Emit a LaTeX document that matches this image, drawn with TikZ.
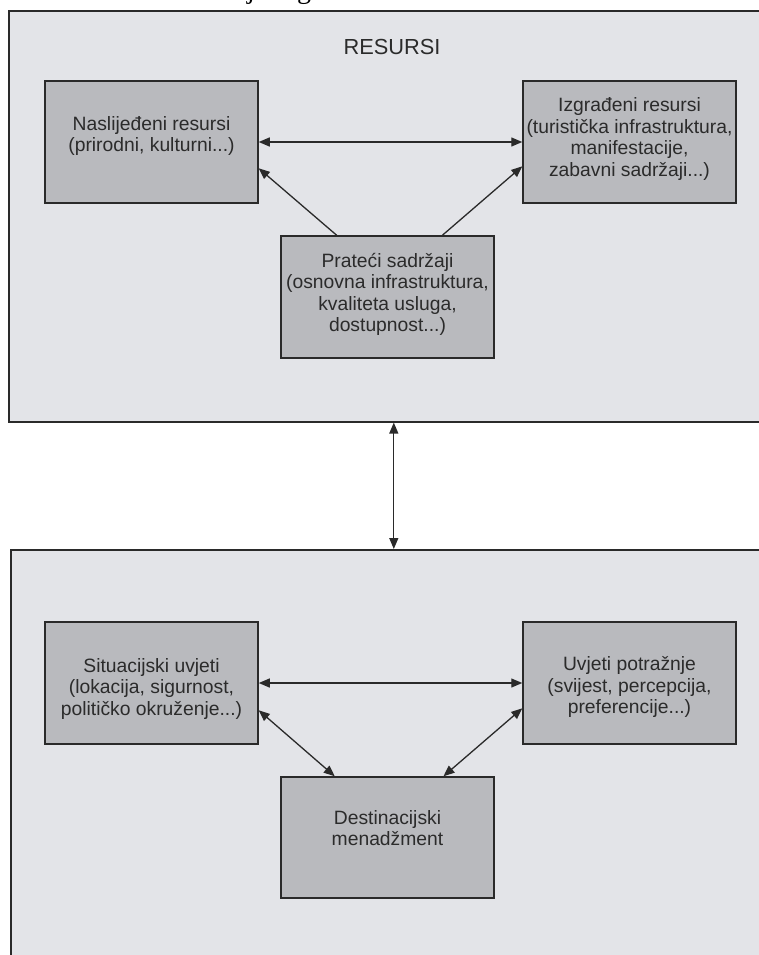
\documentclass[tikz,border=0pt]{standalone}
\usepackage{fontspec}
\setmainfont{Liberation Sans}
\newfontfamily\capfont{Liberation Serif}
\usetikzlibrary{arrows.meta,calc}
\definecolor{outerfill}{HTML}{E3E4E8}
\definecolor{innerfill}{HTML}{B9BABE}
\definecolor{edge}{HTML}{2A2A2A}
\definecolor{ink}{HTML}{2B2B2B}
\begin{document}
\begin{tikzpicture}[x=1pt,y=-1pt,
  panel/.style={draw=edge,line width=1.6pt,fill=outerfill,inner sep=0pt,anchor=north west},
  box/.style={draw=edge,line width=1.5pt,fill=innerfill,minimum width=213pt,minimum height=122pt,inner sep=0pt},
  lbl/.style={align=center,text=ink,font=\fontsize{19.3}{21.5}\selectfont,inner sep=0pt},
  tip/.tip={Triangle[length=11pt,width=9pt]},
  link/.style={draw=edge,line width=1.3pt,-tip},
  dlink/.style={draw=edge,line width=1.3pt,tip-tip}]
\useasboundingbox (0,0) rectangle (758,955);
\fill[white] (0,0) rectangle (758,955);
% cut-off caption fragments at the top edge
\node[font=\capfont\fontsize{28}{28}\selectfont,anchor=base,inner sep=0pt,text=black] (capj) at (251,-1) {j};
\node[font=\capfont\fontsize{28}{28}\selectfont,anchor=base,inner sep=0pt,text=black] (capg) at (304,-1) {g};
% panels
\node[panel,minimum width=770pt,minimum height=411pt] (top) at (8,10) {};
\node[panel,minimum width=770pt,minimum height=430pt] (bot) at (10,549) {};
\node[text=ink,font=\fontsize{21.8}{24}\selectfont,inner sep=0pt] (res) at (392,47) {RESURSI};
% boxes
\node[box] (nas) at (151.5,142) {};
\node[box] (izg) at (629.5,142) {};
\node[box] (pra) at (387.5,297) {};
\node[box] (sit) at (151.5,683) {};
\node[box] (uvj) at (629.5,683) {};
\node[box,minimum height=121pt] (des) at (387.5,837.5) {};
% labels
\node[lbl] (nasl) at (151.5,136) {Naslijeđeni resursi\\(prirodni, kulturni...)};
\node[lbl] (izgl) at (629.5,139) {Izgrađeni resursi\\(turistička infrastruktura,\\manifestacije,\\zabavni sadržaji...)};
\node[lbl] (pral) at (387.5,294.5) {Prateći sadržaji\\(osnovna infrastruktura,\\kvaliteta usluga,\\dostupnost...)};
\node[lbl] (sitl) at (151.5,689) {Situacijski uvjeti\\(lokacija, sigurnost,\\političko okruženje...)};
\node[lbl] (uvjl) at (629.5,687) {Uvjeti potražnje\\(svijest, percepcija,\\preferencije...)};
\node[lbl] (desl) at (387.5,828) {Destinacijski\\menadžment};
% connectors
\draw[dlink] (nas.east) -- (izg.west);
\draw[link] ($(pra.north west)!0.263!(pra.north east)$) -- ($(nas.north east)!0.713!(nas.south east)$);
\draw[link] ($(pra.north west)!0.756!(pra.north east)$) -- ($(izg.north west)!0.697!(izg.south west)$);
\draw[dlink] (top.south) -- (top.south |- bot.north);
\draw[dlink] (sit.east) -- (uvj.west);
\draw[dlink] ($(sit.north east)!0.721!(sit.south east)$) -- ($(des.north west)!0.254!(des.north east)$);
\draw[dlink] ($(uvj.north west)!0.705!(uvj.south west)$) -- ($(des.north west)!0.761!(des.north east)$);
\end{tikzpicture}
\end{document}
